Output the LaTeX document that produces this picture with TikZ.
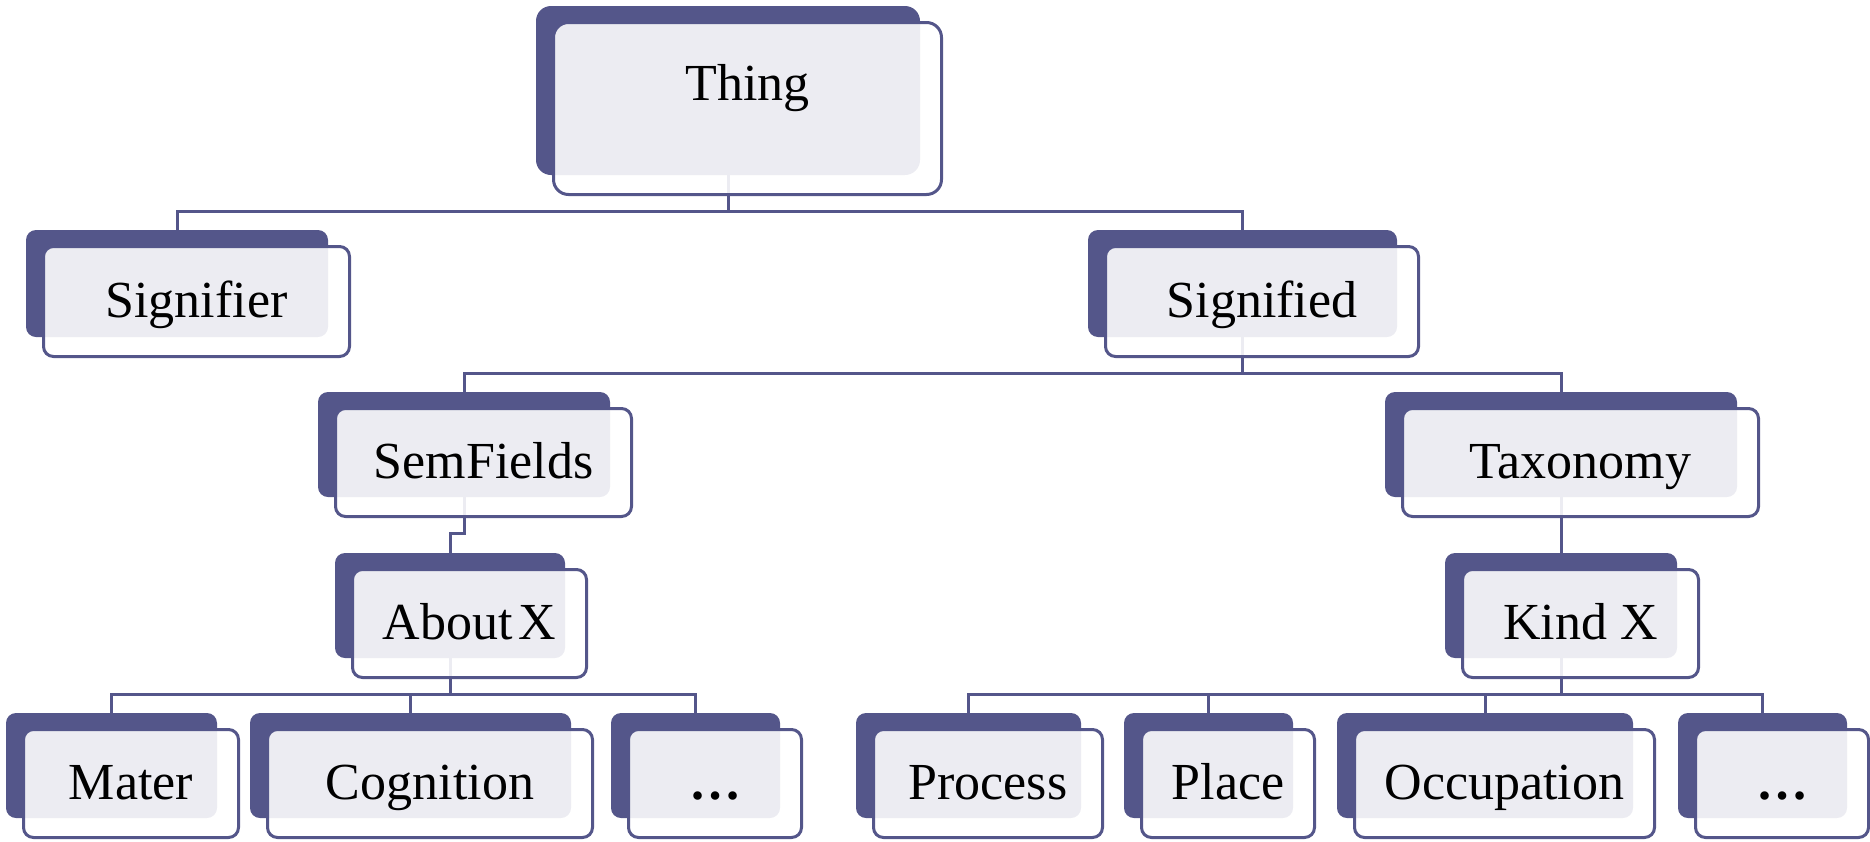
\documentclass[tikz,border=0pt]{standalone}
\usepackage{fontspec}
\setmainfont{Liberation Serif}
\usetikzlibrary{calc}
\definecolor{dk}{RGB}{84,86,138}
% back (dark) box from its corners: name, x1, y1, x2, y2 (pixels, y down)
\newcommand\backbx[6][]{\node[backbox,#1,minimum width={#5-#3},minimum height={#6-#4}] (#2) at ({(#3+#5)/2},{(#4+#6)/2}) {};}
% front (outlined) box, from the back box's corners
\newcommand\frontbx[7][]{\node[frontbox,#1,minimum width={#5-#3+4},minimum height={#6-#4+3}] (#2) at ({(#3+#5)/2+19.5},{(#4+#6)/2+18}) {#7};}
\begin{document}
\begin{tikzpicture}[x=1pt,y=-1pt,
  backbox/.style={rectangle,rounded corners=10pt,fill=dk,draw=none,inner sep=0pt,outer sep=0pt},
  frontbox/.style={rectangle,rounded corners=10pt,draw=dk,line width=3pt,fill=white,fill opacity=0.89,text opacity=1,draw opacity=1,inner sep=0pt,outer sep=0pt,text height=42pt,text depth=11pt,font=\fontsize{52}{60}\selectfont},
  conn/.style={draw=dk,line width=3pt}]
\useasboundingbox (0,0) rectangle (1870,841);

% back boxes
\backbx[rounded corners=15pt]{thingb}{536}{6}{920}{175}
\backbx{signifierb}{26}{230}{328}{337}
\backbx{signifiedb}{1088}{230}{1397}{337}
\backbx{semb}{318}{392}{610}{497}
\backbx{taxb}{1385}{392}{1737}{497}
\backbx{aboutb}{335}{553}{565}{658}
\backbx{kindb}{1445}{553}{1677}{658}
\backbx{materb}{6}{713}{217}{818}
\backbx{cognb}{250}{713}{571}{818}
\backbx{dotsab}{611}{713}{780}{818}
\backbx{procb}{856}{713}{1081}{818}
\backbx{placeb}{1124}{713}{1293}{818}
\backbx{occb}{1337}{713}{1633}{818}
\backbx{dotsbb}{1678}{713}{1847}{818}

% connectors
\coordinate (j1) at ($(thingb.south)+(0,36)$);
\draw[conn] (thingb.south) -- (j1);
\draw[conn] (j1) -| (signifierb.north);
\draw[conn] (j1) -| (signifiedb.north);

\coordinate (j2) at ($(signifiedb.south)+(0,36)$);
\draw[conn] (signifiedb.south) -- (j2);
\draw[conn] (j2) -| (semb.north);
\draw[conn] (j2) -| (taxb.north);

\coordinate (j3) at ($(semb.south)+(0,36)$);
\draw[conn] (semb.south) -- (j3) -| (aboutb.north);

\draw[conn] (taxb.south) -- (kindb.north);

\coordinate (j4) at ($(aboutb.south)+(0,36)$);
\draw[conn] (aboutb.south) -- (j4);
\draw[conn] (j4) -| (materb.north);
\draw[conn] (j4) -| (cognb.north);
\draw[conn] (j4) -| (dotsab.north);

\coordinate (j5) at ($(kindb.south)+(0,36)$);
\draw[conn] (kindb.south) -- (j5);
\draw[conn] (j5) -| (procb.north);
\draw[conn] (j5) -| (placeb.north);
\draw[conn] (j5) -| (occb.north);
\draw[conn] (j5) -| (dotsbb.north);

% front boxes with text
\frontbx[rounded corners=15pt,text height=15pt,text depth=32pt]{thing}{536}{6}{920}{175}{Thing}
\frontbx{signifier}{26}{230}{328}{337}{Signifier}
\frontbx{signified}{1088}{230}{1397}{337}{Signified}
\frontbx{sem}{318}{392}{610}{497}{SemFields}
\frontbx{tax}{1385}{392}{1737}{497}{Taxonomy}
\frontbx{about}{335}{553}{565}{658}{About\hspace{0.12em}X}
\frontbx{kind}{1445}{553}{1677}{658}{Kind X}
\frontbx{mater}{6}{713}{217}{818}{Mater}
\frontbx{cogn}{250}{713}{571}{818}{Cognition}
\frontbx{dotsa}{611}{713}{780}{818}{\textbf{…}}
\frontbx{proc}{856}{713}{1081}{818}{Process}
\frontbx{place}{1124}{713}{1293}{818}{Place}
\frontbx{occ}{1337}{713}{1633}{818}{Occupation}
\frontbx{dotsb}{1678}{713}{1847}{818}{\textbf{…}}
\end{tikzpicture}
\end{document}
